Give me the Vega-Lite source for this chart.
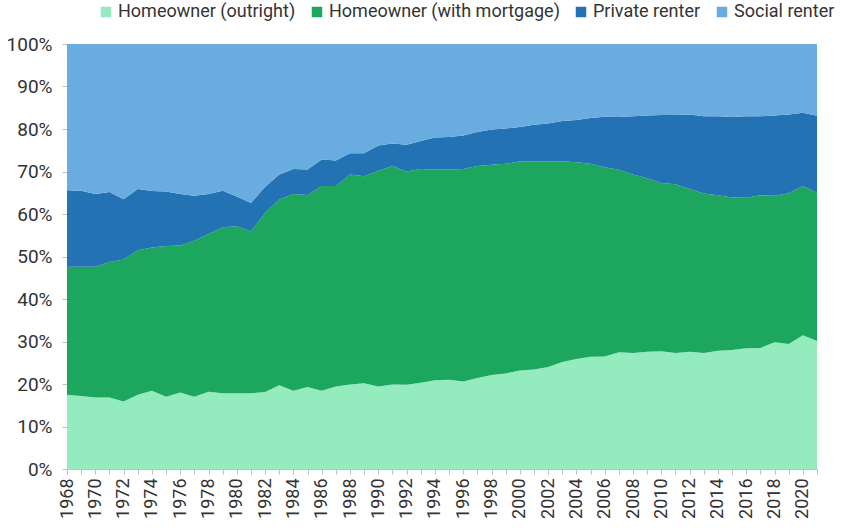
{
  "$schema": "https://vega.github.io/schema/vega-lite/v6.json",
  "width": 750,
  "height": 425,
  "autosize": {"type": "none"},
  "padding": {"left": 67, "top": 44, "right": 31, "bottom": 63},
  "background": "white",
  "config": {
    "view": {"stroke": null},
    "font": "Roboto, sans-serif"
  },
  "data": {
    "values": [
      {"year": 1968, "Homeowner (outright)": 17.5, "Homeowner (with mortgage)": 30.1, "Private renter": 18.0, "Social renter": 34.4},
      {"year": 1969, "Homeowner (outright)": 17.2, "Homeowner (with mortgage)": 30.4, "Private renter": 17.9, "Social renter": 34.5},
      {"year": 1970, "Homeowner (outright)": 16.8, "Homeowner (with mortgage)": 30.8, "Private renter": 17.1, "Social renter": 35.3},
      {"year": 1971, "Homeowner (outright)": 16.8, "Homeowner (with mortgage)": 31.9, "Private renter": 16.5, "Social renter": 34.8},
      {"year": 1972, "Homeowner (outright)": 15.9, "Homeowner (with mortgage)": 33.4, "Private renter": 14.2, "Social renter": 36.5},
      {"year": 1973, "Homeowner (outright)": 17.5, "Homeowner (with mortgage)": 34.0, "Private renter": 14.4, "Social renter": 34.1},
      {"year": 1974, "Homeowner (outright)": 18.4, "Homeowner (with mortgage)": 33.7, "Private renter": 13.3, "Social renter": 34.6},
      {"year": 1975, "Homeowner (outright)": 17.0, "Homeowner (with mortgage)": 35.5, "Private renter": 12.8, "Social renter": 34.7},
      {"year": 1976, "Homeowner (outright)": 18.0, "Homeowner (with mortgage)": 34.6, "Private renter": 12.1, "Social renter": 35.3},
      {"year": 1977, "Homeowner (outright)": 17.0, "Homeowner (with mortgage)": 36.7, "Private renter": 10.6, "Social renter": 35.7},
      {"year": 1978, "Homeowner (outright)": 18.2, "Homeowner (with mortgage)": 37.1, "Private renter": 9.4, "Social renter": 35.3},
      {"year": 1979, "Homeowner (outright)": 17.8, "Homeowner (with mortgage)": 39.1, "Private renter": 8.6, "Social renter": 34.5},
      {"year": 1980, "Homeowner (outright)": 17.8, "Homeowner (with mortgage)": 39.3, "Private renter": 7.0, "Social renter": 35.9},
      {"year": 1981, "Homeowner (outright)": 17.8, "Homeowner (with mortgage)": 38.1, "Private renter": 6.7, "Social renter": 37.4},
      {"year": 1982, "Homeowner (outright)": 18.1, "Homeowner (with mortgage)": 42.2, "Private renter": 6.1, "Social renter": 33.6},
      {"year": 1983, "Homeowner (outright)": 19.7, "Homeowner (with mortgage)": 43.7, "Private renter": 5.9, "Social renter": 30.7},
      {"year": 1984, "Homeowner (outright)": 18.4, "Homeowner (with mortgage)": 46.3, "Private renter": 5.9, "Social renter": 29.4},
      {"year": 1985, "Homeowner (outright)": 19.3, "Homeowner (with mortgage)": 45.2, "Private renter": 6.0, "Social renter": 29.5},
      {"year": 1986, "Homeowner (outright)": 18.4, "Homeowner (with mortgage)": 48.2, "Private renter": 6.2, "Social renter": 27.2},
      {"year": 1987, "Homeowner (outright)": 19.4, "Homeowner (with mortgage)": 47.2, "Private renter": 6.0, "Social renter": 27.4},
      {"year": 1988, "Homeowner (outright)": 19.9, "Homeowner (with mortgage)": 49.4, "Private renter": 5.0, "Social renter": 25.7},
      {"year": 1989, "Homeowner (outright)": 20.2, "Homeowner (with mortgage)": 48.7, "Private renter": 5.4, "Social renter": 25.7},
      {"year": 1990, "Homeowner (outright)": 19.4, "Homeowner (with mortgage)": 50.8, "Private renter": 5.9, "Social renter": 23.9},
      {"year": 1991, "Homeowner (outright)": 19.9, "Homeowner (with mortgage)": 51.4, "Private renter": 5.3, "Social renter": 23.4},
      {"year": 1992, "Homeowner (outright)": 19.8, "Homeowner (with mortgage)": 50.2, "Private renter": 6.3, "Social renter": 23.7},
      {"year": 1993, "Homeowner (outright)": 20.3, "Homeowner (with mortgage)": 50.3, "Private renter": 6.6, "Social renter": 22.8},
      {"year": 1994, "Homeowner (outright)": 20.9, "Homeowner (with mortgage)": 49.6, "Private renter": 7.5, "Social renter": 22.0},
      {"year": 1995, "Homeowner (outright)": 21.0, "Homeowner (with mortgage)": 49.5, "Private renter": 7.6, "Social renter": 21.9},
      {"year": 1996, "Homeowner (outright)": 20.6, "Homeowner (with mortgage)": 50.0, "Private renter": 7.9, "Social renter": 21.5},
      {"year": 1997, "Homeowner (outright)": 21.4, "Homeowner (with mortgage)": 49.9, "Private renter": 8.0, "Social renter": 20.7},
      {"year": 1998, "Homeowner (outright)": 22.1, "Homeowner (with mortgage)": 49.5, "Private renter": 8.3, "Social renter": 20.1},
      {"year": 1999, "Homeowner (outright)": 22.5, "Homeowner (with mortgage)": 49.3, "Private renter": 8.3, "Social renter": 19.9},
      {"year": 2000, "Homeowner (outright)": 23.2, "Homeowner (with mortgage)": 49.2, "Private renter": 8.1, "Social renter": 19.5},
      {"year": 2001, "Homeowner (outright)": 23.4, "Homeowner (with mortgage)": 49.0, "Private renter": 8.6, "Social renter": 19.0},
      {"year": 2002, "Homeowner (outright)": 24.0, "Homeowner (with mortgage)": 48.4, "Private renter": 8.9, "Social renter": 18.7},
      {"year": 2003, "Homeowner (outright)": 25.2, "Homeowner (with mortgage)": 47.2, "Private renter": 9.5, "Social renter": 18.1},
      {"year": 2004, "Homeowner (outright)": 25.9, "Homeowner (with mortgage)": 46.3, "Private renter": 9.9, "Social renter": 17.9},
      {"year": 2005, "Homeowner (outright)": 26.4, "Homeowner (with mortgage)": 45.4, "Private renter": 10.8, "Social renter": 17.4},
      {"year": 2006, "Homeowner (outright)": 26.5, "Homeowner (with mortgage)": 44.5, "Private renter": 11.9, "Social renter": 17.1},
      {"year": 2007, "Homeowner (outright)": 27.5, "Homeowner (with mortgage)": 42.9, "Private renter": 12.4, "Social renter": 17.2},
      {"year": 2008, "Homeowner (outright)": 27.3, "Homeowner (with mortgage)": 42.0, "Private renter": 13.7, "Social renter": 17.0},
      {"year": 2009, "Homeowner (outright)": 27.6, "Homeowner (with mortgage)": 40.8, "Private renter": 14.8, "Social renter": 16.8},
      {"year": 2010, "Homeowner (outright)": 27.7, "Homeowner (with mortgage)": 39.6, "Private renter": 16.0, "Social renter": 16.7},
      {"year": 2011, "Homeowner (outright)": 27.3, "Homeowner (with mortgage)": 39.7, "Private renter": 16.3, "Social renter": 16.7},
      {"year": 2012, "Homeowner (outright)": 27.6, "Homeowner (with mortgage)": 38.3, "Private renter": 17.5, "Social renter": 16.6},
      {"year": 2013, "Homeowner (outright)": 27.3, "Homeowner (with mortgage)": 37.5, "Private renter": 18.2, "Social renter": 17.0},
      {"year": 2014, "Homeowner (outright)": 27.8, "Homeowner (with mortgage)": 36.6, "Private renter": 18.6, "Social renter": 17.0},
      {"year": 2015, "Homeowner (outright)": 28.0, "Homeowner (with mortgage)": 35.9, "Private renter": 18.9, "Social renter": 17.2},
      {"year": 2016, "Homeowner (outright)": 28.4, "Homeowner (with mortgage)": 35.4, "Private renter": 19.2, "Social renter": 17.0},
      {"year": 2017, "Homeowner (outright)": 28.5, "Homeowner (with mortgage)": 35.9, "Private renter": 18.6, "Social renter": 17.0},
      {"year": 2018, "Homeowner (outright)": 29.8, "Homeowner (with mortgage)": 34.5, "Private renter": 18.9, "Social renter": 16.8},
      {"year": 2019, "Homeowner (outright)": 29.4, "Homeowner (with mortgage)": 35.5, "Private renter": 18.5, "Social renter": 16.6},
      {"year": 2020, "Homeowner (outright)": 31.5, "Homeowner (with mortgage)": 35.1, "Private renter": 17.2, "Social renter": 16.2},
      {"year": 2021, "Homeowner (outright)": 30.1, "Homeowner (with mortgage)": 34.9, "Private renter": 18.1, "Social renter": 16.9}
    ]
  },
  "transform": [
    {"fold": ["Homeowner (outright)", "Homeowner (with mortgage)", "Private renter", "Social renter"], "as": ["tenure", "share"]}
  ],
  "mark": {"type": "area", "interpolate": "linear"},
  "encoding": {
    "x": {
      "field": "year",
      "type": "ordinal",
      "scale": {"type": "point", "padding": 0},
      "axis": {
        "title": null,
        "labelAngle": 270,
        "labelAlign": "right",
        "labelBaseline": "middle",
        "labelFontSize": 18,
        "labelColor": "#333333",
        "labelPadding": 4,
        "labelExpr": "datum.value % 2 == 0 ? datum.label : ''",
        "domainColor": "#bfbfbf",
        "tickColor": "#bfbfbf",
        "tickSize": 5,
        "labelOverlap": false
      }
    },
    "y": {
      "field": "share",
      "type": "quantitative",
      "stack": "normalize",
      "scale": {"domain": [0, 1], "nice": false},
      "axis": {
        "title": null,
        "format": ".0%",
        "values": [0, 0.1, 0.2, 0.3, 0.4, 0.5, 0.6, 0.7, 0.8, 0.9, 1],
        "grid": false,
        "labelFontSize": 19,
        "labelColor": "#333333",
        "labelPadding": 10,
        "domainColor": "#bfbfbf",
        "tickColor": "#bfbfbf",
        "tickSize": 5
      }
    },
    "color": {
      "field": "tenure",
      "type": "nominal",
      "scale": {
        "domain": ["Homeowner (outright)", "Homeowner (with mortgage)", "Private renter", "Social renter"],
        "range": ["#94EBBE", "#1DA65E", "#2272B4", "#68ACE0"]
      },
      "legend": {
        "title": null,
        "orient": "none",
        "direction": "horizontal",
        "legendX": 30,
        "legendY": -41,
        "symbolType": "square",
        "symbolSize": 110,
        "symbolStrokeWidth": 0,
        "labelFontSize": 18,
        "labelLimit": 0,
        "labelColor": "#333333",
        "columnPadding": 12,
        "labelOffset": 3
      }
    },
    "order": {"field": "tenure", "sort": "ascending"}
  }
}
